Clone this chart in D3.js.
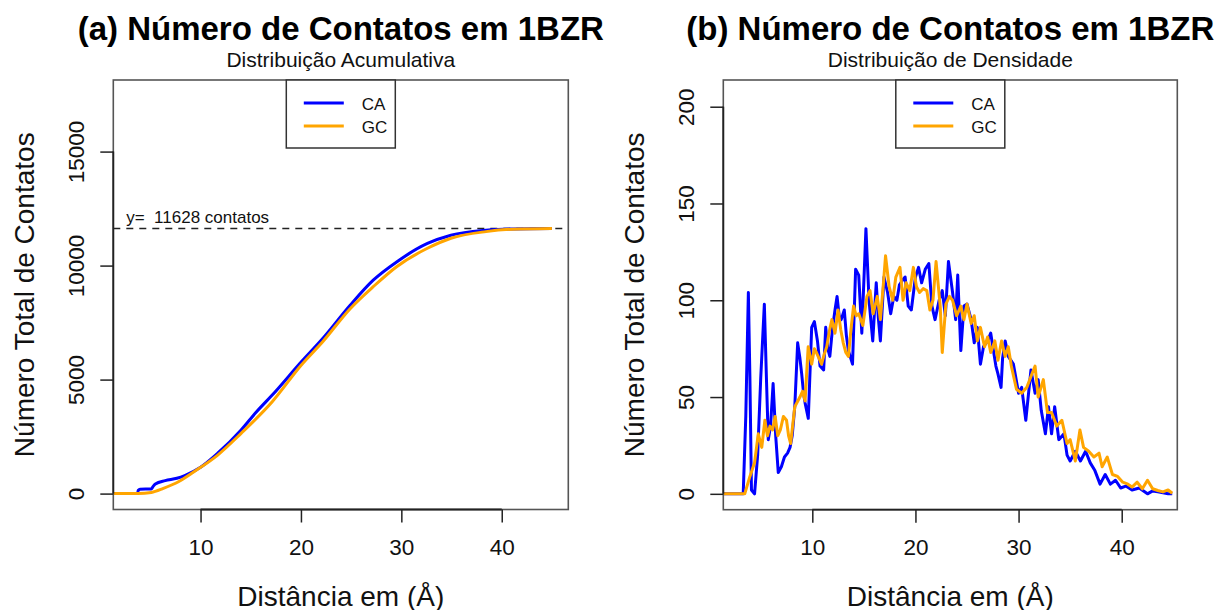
<!DOCTYPE html>
<html>
<head>
<meta charset="utf-8">
<script src="https://cdn.jsdelivr.net/npm/d3@7"></script>
<style>
  html, body { margin: 0; padding: 0; background: #fff; }
  svg { display: block; font-family: "Liberation Sans", Arial, Helvetica, sans-serif; }
</style>
</head>
<body>
<svg id="chart" width="1220" height="610"></svg>
<script>
// ---- data -------------------------------------------------------------
const seriesNames = ["CA", "GC"];
const seriesColors = ["#0000FF", "#FFA500"];
const totalContacts = 11628;

// cumulative number of contacts vs distance (Å)
const cumDistCA = [1.0, 3.72, 3.8, 3.97, 5.1, 5.3, 5.5, 6.48, 7.64, 8.42, 10.0, 11.71, 14.04, 15.58, 17.14, 20.04, 22.17, 24.88, 27.2, 29.53, 32.6, 34.94, 38.43, 41.14, 45.0];
const cumValCA  = [0, 0, 150, 190, 205, 330, 425, 570, 672, 790, 1155, 1770, 2790, 3590, 4320, 5780, 6800, 8250, 9360, 10160, 10970, 11330, 11550, 11610, 11628];
const cumDistGC = [1.0, 3.75, 5.1, 6.3, 7.8, 9.35, 11.71, 14.04, 17.14, 20.04, 22.17, 24.88, 27.2, 29.53, 32.6, 34.94, 38.43, 41.14, 45.0];
const cumValGC  = [0, 0, 50, 230, 520, 960, 1690, 2640, 4030, 5640, 6660, 8100, 9075, 9950, 10760, 11200, 11490, 11595, 11628];

// contacts per distance bin (density)
const denDistCA = [1.0, 3.3, 3.55, 3.8, 3.95, 4.1, 4.4, 4.7, 5.0, 5.35, 5.55, 5.73, 5.95, 6.2, 6.45, 6.7, 7.0, 7.3, 7.6, 7.84, 8.05, 8.3, 8.58, 8.8, 8.97, 9.15, 9.3, 9.61, 9.94, 10.2, 10.5, 10.75, 11.1, 11.3, 11.5, 11.7, 11.95, 12.2, 12.4, 12.6, 12.8, 13.1, 13.3, 13.5, 13.9, 14.2, 14.5, 14.8, 15.2, 15.5, 15.86, 16.2, 16.4, 16.6, 16.95, 17.3, 17.6, 17.9, 18.2, 18.45, 18.7, 19.0, 19.3, 19.6, 20.0, 20.3, 20.6, 20.95, 21.3, 21.6, 21.9, 22.3, 22.6, 22.9, 23.2, 23.6, 23.9, 24.1, 24.4, 24.7, 25.0, 25.4, 25.7, 26.0, 26.3, 26.6, 27.0, 27.3, 27.8, 28.0, 28.3, 28.45, 28.7, 29.0, 29.5, 30.0, 30.3, 30.7, 31.2, 31.6, 31.9, 32.2, 32.6, 32.9, 33.2, 33.5, 33.9, 34.4, 34.7, 35.0, 35.5, 36.0, 36.5, 36.95, 37.4, 37.9, 38.4, 38.9, 39.4, 39.9, 40.4, 41.0, 41.7, 42.5, 43.0, 43.5, 44.0, 44.5, 44.9];
const denValCA  = [0, 0, 40, 104, 60, 2, 0, 20, 60, 98, 60, 28, 35, 57, 30, 11, 14, 19, 21, 24, 30, 45, 78, 70, 62, 52, 47, 39, 86, 89, 79, 66, 64, 86, 75, 71, 85, 95, 102, 92, 90, 95, 82, 74, 67, 116, 113, 83, 137, 100, 79, 109, 91, 79, 112, 104, 93, 102, 100, 108, 110, 112, 97, 95, 112, 117, 109, 116, 119, 97, 90, 100, 105, 92, 120, 104, 90, 113, 74, 97, 98, 90, 78, 86, 67, 76, 79, 83, 66, 62, 55, 70, 79, 71, 67, 52, 55, 38, 64, 52, 59, 43, 31, 45, 31, 45, 28, 31, 20, 17, 22, 17, 22, 16, 12, 5, 10, 5, 7, 3, 4, 2, 3, 0, 1.5, 1, 0.5, 0, 0];
const denDistGC = [1.0, 3.45, 3.95, 4.4, 4.76, 5.1, 5.4, 5.65, 5.9, 6.15, 6.4, 6.65, 6.9, 7.2, 7.5, 7.7, 7.9, 8.3, 8.8, 9.05, 9.3, 9.6, 9.94, 10.2, 10.4, 10.65, 10.9, 11.15, 11.4, 11.65, 11.9, 12.2, 12.5, 12.75, 13.0, 13.25, 13.5, 13.75, 14.0, 14.25, 14.5, 14.9, 15.3, 15.6, 15.9, 16.3, 16.6, 16.9, 17.1, 17.45, 17.8, 18.1, 18.5, 18.8, 19.1, 19.45, 19.8, 20.1, 20.4, 20.75, 21.1, 21.4, 21.7, 22.0, 22.4, 22.6, 22.95, 23.3, 23.6, 24.0, 24.4, 24.7, 25.0, 25.4, 25.7, 26.0, 26.3, 26.7, 27.0, 27.3, 27.7, 28.0, 28.35, 28.7, 29.0, 29.3, 29.8, 30.3, 30.8, 31.3, 31.6, 31.9, 32.4, 32.8, 33.2, 33.7, 34.2, 34.7, 35.0, 35.5, 35.95, 36.3, 36.8, 37.3, 37.8, 38.1, 38.6, 39.1, 39.6, 40.1, 40.6, 41.0, 41.5, 42.0, 42.5, 43.0, 43.5, 44.0, 44.5, 44.9];
const denValGC  = [0, 0, 9, 16, 31, 24, 38, 30, 35, 33, 40, 30, 33, 40, 38, 30, 26, 45, 50, 53, 48, 76, 67, 75, 73, 70, 67, 72, 76, 84, 90, 83, 95, 85, 78, 73, 71, 85, 97, 92, 93, 87, 102, 105, 93, 102, 90, 109, 123, 107, 100, 112, 117, 100, 109, 105, 117, 107, 104, 106, 105, 95, 100, 120, 97, 73, 98, 102, 100, 92, 97, 90, 98, 88, 92, 79, 86, 76, 81, 73, 79, 69, 79, 71, 76, 66, 54, 52, 55, 62, 66, 50, 59, 42, 42, 35, 38, 26, 28, 17, 33, 24, 22, 19, 21, 14, 19, 10, 9, 6, 5, 3.5, 6, 2.6, 7, 2.6, 1.7, 1, 2, 0.3];

// axis ticks
const xTicks = [10, 20, 30, 40];
const yTicksCum = [0, 5000, 10000, 15000];
const yTicksDen = [0, 50, 100, 150, 200];

// text
const titles = ["(a) Número de Contatos em 1BZR", "(b) Número de Contatos em 1BZR"];
const subtitles = ["Distribuição Acumulativa", "Distribuição de Densidade"];
const xLabel = "Distância em (Å)";
const yLabel = "Número Total de Contatos";

// ---- layout -----------------------------------------------------------
const svg = d3.select("#chart");
const FONT = '"Liberation Sans", Arial, Helvetica, sans-serif';

const panels = [
  {
    left: 113.3, right: 568.3, top: 80, bottom: 509.5,
    xDomain: [1.31, 46.63], yDomain: [-697.7, 18139.7],
    yTicks: yTicksCum, curve: d3.curveMonotoneX,
    series: [
      { dist: cumDistCA, val: cumValCA },
      { dist: cumDistGC, val: cumValGC }
    ],
    title: titles[0], subtitle: subtitles[0], refLine: true
  },
  {
    left: 723.3, right: 1177.3, top: 80, bottom: 509.7,
    xDomain: [1.37, 45.39], yDomain: [-8.2, 213.8],
    yTicks: yTicksDen, curve: d3.curveLinear,
    series: [
      { dist: denDistCA, val: denValCA },
      { dist: denDistGC, val: denValGC }
    ],
    title: titles[1], subtitle: subtitles[1], refLine: false
  }
];

panels.forEach((p, i) => {
  const x = d3.scaleLinear().domain(p.xDomain).range([p.left, p.right]);
  const y = d3.scaleLinear().domain(p.yDomain).range([p.bottom, p.top]);
  const cx = (p.left + p.right) / 2;
  const cy = (p.top + p.bottom) / 2;
  const g = svg.append("g");

  const clipId = "clip" + i;
  svg.append("clipPath").attr("id", clipId)
    .append("rect")
    .attr("x", p.left).attr("y", p.top)
    .attr("width", p.right - p.left).attr("height", p.bottom - p.top);

  // reference line at the total number of contacts
  if (p.refLine) {
    g.append("line")
      .attr("x1", p.left).attr("x2", p.right)
      .attr("y1", y(totalContacts)).attr("y2", y(totalContacts))
      .attr("stroke", "#222").attr("stroke-width", 1.4)
      .attr("stroke-dasharray", "7,6");
    g.append("text")
      .attr("x", x(2.6)).attr("y", y(totalContacts) - 5)
      .attr("font-size", 17).attr("fill", "#111")
      .style("white-space", "pre")
      .text("y=  " + totalContacts + " contatos");
  }

  // series lines, CA underneath GC
  const line = d3.line().curve(p.curve).x(d => x(d[0])).y(d => y(d[1]));
  const lg = g.append("g").attr("clip-path", `url(#${clipId})`);
  p.series.forEach((s, k) => {
    const pts = s.dist.map((d, j) => [d, s.val[j]]);
    lg.append("path")
      .datum(pts)
      .attr("d", line)
      .attr("fill", "none")
      .attr("stroke", seriesColors[k])
      .attr("stroke-width", 3)
      .attr("stroke-linejoin", "round");
  });

  // plot box
  g.append("rect")
    .attr("x", p.left).attr("y", p.top)
    .attr("width", p.right - p.left).attr("height", p.bottom - p.top)
    .attr("fill", "none").attr("stroke", "#555").attr("stroke-width", 1.6);

  // x axis
  const xAxis = d3.axisBottom(x).tickValues(xTicks).tickSize(13).tickFormat(d3.format("d"));
  const xa = g.append("g").attr("transform", `translate(0,${p.bottom})`).call(xAxis);
  xa.select(".domain").remove();
  xa.selectAll(".tick line").attr("stroke", "#222").attr("stroke-width", 1.5);
  xa.selectAll(".tick text")
    .attr("y", 45.5).attr("dy", null)
    .attr("font-size", 22.5).attr("font-family", FONT).attr("fill", "#111");
  g.append("line")
    .attr("x1", x(xTicks[0])).attr("x2", x(xTicks[xTicks.length - 1]))
    .attr("y1", p.bottom).attr("y2", p.bottom)
    .attr("stroke", "#222").attr("stroke-width", 1.8);

  // y axis
  const yAxis = d3.axisLeft(y).tickValues(p.yTicks).tickSize(13).tickFormat(d3.format("d"));
  const ya = g.append("g").attr("transform", `translate(${p.left},0)`).call(yAxis);
  ya.select(".domain").remove();
  ya.selectAll(".tick line").attr("stroke", "#222").attr("stroke-width", 1.5);
  ya.selectAll(".tick text")
    .attr("x", null).attr("dy", null)
    .attr("transform", "translate(-29.5,0) rotate(-90)")
    .attr("text-anchor", "middle")
    .attr("font-size", 22.5).attr("font-family", FONT).attr("fill", "#111");
  g.append("line")
    .attr("x1", p.left).attr("x2", p.left)
    .attr("y1", y(p.yTicks[0])).attr("y2", y(p.yTicks[p.yTicks.length - 1]))
    .attr("stroke", "#222").attr("stroke-width", 1.8);

  // titles
  g.append("text")
    .attr("x", cx).attr("y", 39.5)
    .attr("text-anchor", "middle")
    .attr("font-size", 33).attr("font-weight", "bold").attr("fill", "#000")
    .text(p.title);
  g.append("text")
    .attr("x", cx).attr("y", 66.5)
    .attr("text-anchor", "middle")
    .attr("font-size", 21).attr("fill", "#111")
    .text(p.subtitle);

  // axis labels
  g.append("text")
    .attr("x", cx).attr("y", 605.5)
    .attr("text-anchor", "middle")
    .attr("font-size", 28).attr("fill", "#111")
    .text(xLabel);
  g.append("text")
    .attr("transform", `translate(${p.left - 79},${cy}) rotate(-90)`)
    .attr("text-anchor", "middle")
    .attr("font-size", 28).attr("fill", "#111")
    .text(yLabel);

  // legend
  const lgd = g.append("g");
  lgd.append("rect")
    .attr("x", cx - 54.5).attr("y", p.top)
    .attr("width", 109).attr("height", 68)
    .attr("fill", "#fff").attr("stroke", "#333").attr("stroke-width", 1.5);
  seriesNames.forEach((name, k) => {
    const ly = p.top + 23 + k * 23;
    lgd.append("line")
      .attr("x1", cx - 37).attr("x2", cx + 3)
      .attr("y1", ly).attr("y2", ly)
      .attr("stroke", seriesColors[k]).attr("stroke-width", 3);
    lgd.append("text")
      .attr("x", cx + 21).attr("y", ly + 6.5)
      .attr("font-size", 17).attr("fill", "#111")
      .text(name);
  });
});
</script>
</body>
</html>
